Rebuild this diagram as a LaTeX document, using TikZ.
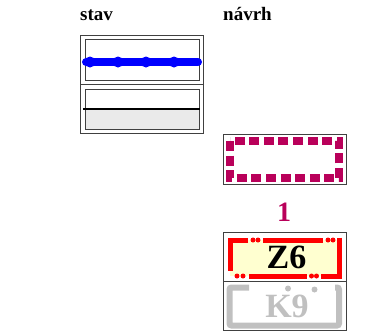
\documentclass[tikz,border=0pt]{standalone}
\usepackage{fontspec}
\setmainfont{Liberation Serif}
\usetikzlibrary{positioning}

\definecolor{trackblue}{RGB}{0,0,255}
\definecolor{plum}{RGB}{185,0,90}
\definecolor{signred}{RGB}{255,0,0}
\definecolor{paleyellow}{RGB}{255,255,208}
\definecolor{ghost}{RGB}{192,192,192}
\definecolor{lightgrey}{RGB}{234,234,234}

\begin{document}
\begin{tikzpicture}[
    x=1pt, y=-1pt,
    every node/.style={inner sep=0pt},
    outerbox/.style={draw=black!75, line width=1pt},
    innerbox/.style={draw=black!75, line width=0.8pt},
    heading/.style={anchor=base west, font=\bfseries\fontsize{19}{19}\selectfont},
    bigtext/.style={anchor=base, font=\bfseries\fontsize{34}{34}\selectfont},
    bluetrack/.style={draw=trackblue, line width=8pt, line cap=round},
    plumdash/.style={draw=plum, line width=7.5pt, dash pattern=on 10pt off 4.6pt},
    redline/.style={draw=signred, line width=5pt},
    ghostline/.style={draw=ghost, line width=6pt, rounded corners=2pt},
]
\useasboundingbox (0,0) rectangle (365,335);

% Column headings
\node[heading] (stav) at (80,20) {stav};
\node[heading] (navrh) at (223,20) {návrh};

% Existing state (left column)
\fill[fill=lightgrey] (85,109) rectangle (199,129);
\draw[outerbox] (80,35) rectangle (203,133);
\draw[outerbox] (80,84) -- (203,84);
\draw[innerbox] (85,39) rectangle (199,80);
\draw[innerbox] (85,89) rectangle (199,129);
\draw[black, line width=2.5pt] (83,109) -- (200,109);
\draw[bluetrack] (86,62) -- (198,62);
\foreach \x in {90,118,146,174}
    \fill[fill=trackblue] (\x,62) circle (5.5);

% Proposal: dashed frame
\draw[outerbox] (223,134) rectangle (346,184);
\draw[plumdash] (230,141) rectangle (339,178);
\node[anchor=base, text=plum, font=\bfseries\fontsize{28}{28}\selectfont] (one) at (284,221) {1};

% Proposal: signal board
\fill[fill=paleyellow] (230,240) rectangle (339.5,276);
\draw[outerbox] (223,232) rectangle (346,330);
\draw[outerbox] (223,281) -- (346,281);
\draw[redline] (248,240) -- (230,240) -- (230,271);
\draw[redline] (263,240) -- (323,240);
\draw[redline] (339.5,237.5) -- (339.5,276) -- (321,276);
\draw[redline] (249,276) -- (307,276);
\foreach \p in {(253,240),(258,240),(328,240),(333,240),(237,276),(243,276),(311.5,276),(316.5,276)}
    \fill[fill=signred] \p circle (2.5);
\node[bigtext] (z6) at (286.5,268) {Z6};

% Proposal: faded board
\draw[ghostline] (249,287.5) -- (229.5,287.5) -- (229.5,325.5) -- (339,325.5) -- (339,287.5) -- (335,287.5);
\node[bigtext, text=ghost] (k9) at (287,317) {K9};
\fill[fill=ghost] (288,288.5) circle (3) (314.5,289.5) circle (3);

\end{tikzpicture}
\end{document}
